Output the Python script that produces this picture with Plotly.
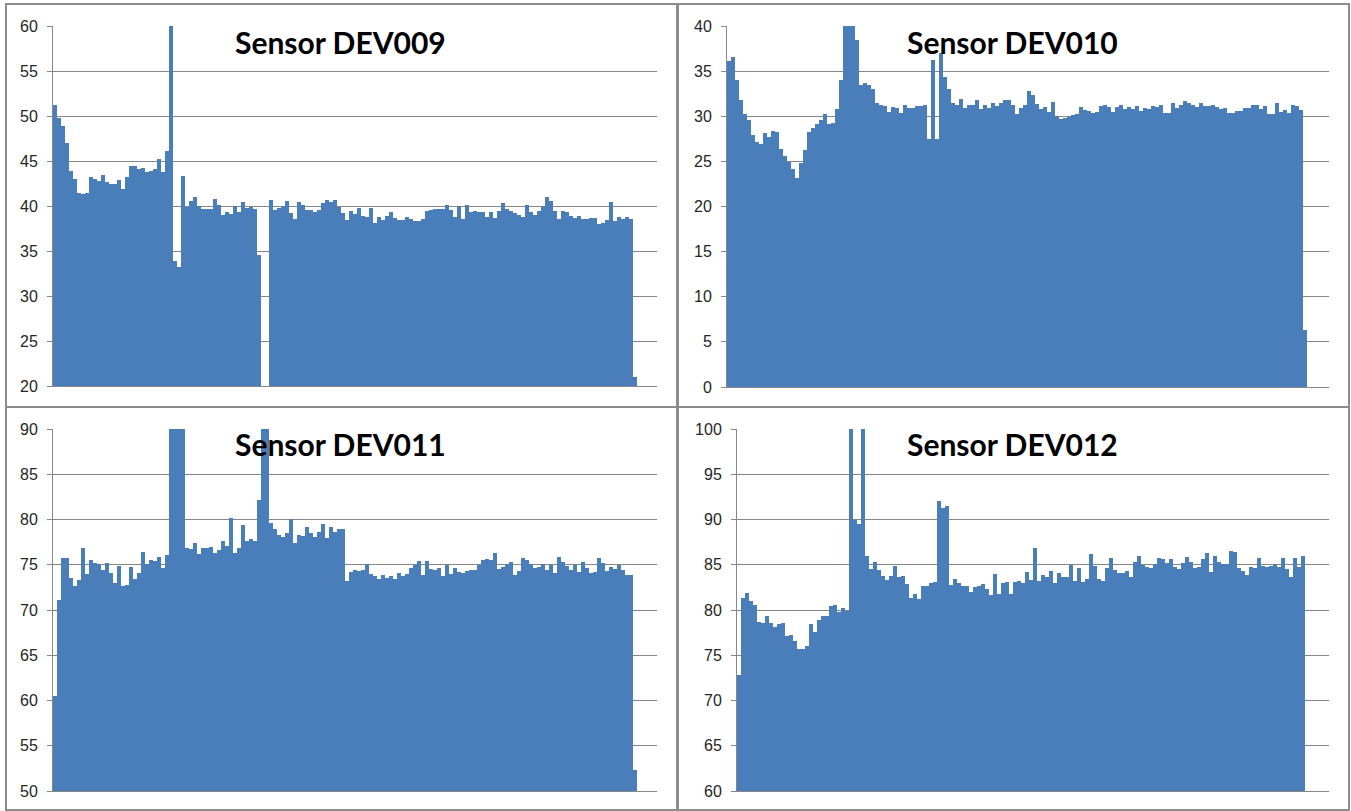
import plotly.graph_objects as go

# ---------------- data ----------------
titles = ["Sensor DEV009", "Sensor DEV010", "Sensor DEV011", "Sensor DEV012"]

dev009 = [51.2, 49.8, 48.9, 47.0, 43.9, 43.0, 41.5, 41.3, 41.4, 43.2,
          43.0, 42.8, 43.5, 42.7, 42.4, 42.5, 42.9, 41.9, 43.2, 44.4,
          44.5, 44.1, 44.2, 43.8, 43.9, 44.1, 45.2, 43.8, 46.1, 75.0,
          33.9, 33.2, 43.3, 39.9, 40.6, 41.0, 40.0, 39.7, 39.7, 39.7,
          40.8, 40.1, 39.0, 39.3, 39.1, 40.0, 39.3, 40.4, 39.8, 39.9,
          39.7, 34.6, 0.0, 0.0, 40.7, 39.6, 39.8, 40.0, 40.6, 39.2,
          38.6, 40.5, 40.1, 39.6, 39.6, 39.3, 39.6, 40.3, 40.7, 40.4,
          40.7, 39.9, 39.2, 38.4, 39.5, 39.1, 39.8, 38.9, 38.8, 39.8,
          38.1, 38.8, 38.4, 38.9, 39.3, 38.7, 38.5, 38.5, 38.8, 38.6,
          38.3, 38.3, 38.6, 39.4, 39.6, 39.7, 39.7, 39.7, 40.1, 39.6,
          38.8, 40.0, 38.6, 40.1, 39.3, 39.5, 39.3, 39.3, 38.8, 39.3,
          38.7, 39.4, 40.3, 39.7, 39.4, 39.2, 39.0, 38.8, 40.1, 39.3,
          39.0, 39.5, 39.9, 41.0, 40.6, 39.4, 38.6, 39.4, 39.3, 38.9,
          38.7, 38.9, 38.6, 38.6, 38.7, 38.7, 38.0, 38.1, 38.4, 40.5,
          38.3, 38.8, 38.6, 38.8, 38.6, 21.0]

dev010 = [36.1, 36.6, 34.0, 31.8, 30.2, 29.6, 27.9, 27.1, 26.9, 28.2,
          27.7, 28.4, 28.3, 26.4, 25.6, 24.9, 24.2, 23.2, 24.8, 26.3,
          28.3, 28.7, 29.1, 29.6, 30.2, 29.1, 29.2, 30.8, 34.0, 45.0,
          45.0, 45.0, 38.5, 33.5, 33.7, 33.5, 33.0, 31.5, 31.2, 31.1,
          30.5, 31.0, 30.9, 30.4, 31.3, 30.9, 30.9, 31.1, 31.1, 31.3,
          27.5, 36.2, 27.5, 37.0, 34.4, 33.0, 31.5, 31.3, 31.9, 30.9,
          31.2, 31.3, 31.8, 30.8, 31.3, 30.9, 31.5, 31.1, 31.5, 31.8,
          31.8, 31.3, 30.2, 30.9, 31.3, 32.8, 32.4, 31.4, 30.8, 31.0,
          30.5, 31.6, 30.0, 29.7, 29.8, 29.9, 30.1, 30.3, 31.0, 30.7,
          30.6, 30.4, 30.5, 31.1, 31.3, 31.0, 30.5, 31.0, 31.2, 30.8,
          31.0, 30.8, 31.1, 30.6, 30.9, 30.8, 31.1, 31.0, 31.2, 30.4,
          30.4, 31.5, 30.9, 31.3, 31.7, 31.5, 31.3, 31.0, 31.5, 31.1,
          31.1, 31.2, 31.0, 30.8, 30.9, 30.4, 30.4, 30.6, 30.6, 30.9,
          30.9, 31.2, 31.3, 30.8, 31.1, 30.3, 30.3, 31.5, 30.5, 30.7,
          30.4, 31.3, 31.1, 30.7, 6.3]

dev011 = [60.5, 71.1, 75.8, 75.8, 73.5, 72.6, 73.3, 76.9, 74.0, 75.5,
          75.2, 75.1, 74.4, 75.2, 74.1, 73.0, 74.9, 72.6, 72.8, 74.8,
          73.4, 74.1, 76.4, 75.1, 75.5, 75.4, 75.9, 74.6, 76.1, 95.0,
          95.0, 95.0, 95.0, 76.8, 76.7, 77.4, 76.2, 76.8, 76.8, 77.0,
          76.3, 76.6, 77.6, 77.1, 80.2, 76.3, 76.9, 79.4, 77.6, 77.9,
          77.6, 82.2, 95.0, 95.0, 79.6, 79.0, 78.3, 78.1, 78.5, 80.1,
          77.4, 78.3, 78.2, 79.2, 78.5, 78.1, 78.6, 79.5, 78.0, 79.2,
          78.6, 78.9, 79.0, 73.2, 74.2, 74.4, 74.3, 74.4, 75.1, 74.0,
          73.8, 73.4, 73.9, 73.5, 73.8, 73.4, 74.1, 73.8, 74.0, 74.6,
          75.0, 75.4, 73.9, 75.4, 74.5, 74.4, 74.6, 73.8, 75.0, 74.0,
          74.6, 74.2, 74.1, 74.3, 74.4, 74.4, 75.0, 75.5, 75.6, 75.5,
          76.3, 74.5, 74.8, 75.1, 75.3, 73.9, 74.3, 75.8, 75.5, 75.1,
          74.6, 74.8, 75.1, 74.4, 75.0, 74.1, 75.9, 75.3, 74.9, 74.4,
          75.0, 74.2, 75.3, 74.6, 74.1, 74.2, 75.8, 75.2, 74.3, 74.8,
          74.5, 75.0, 74.4, 73.9, 73.9, 52.3]

dev012 = [72.8, 81.3, 81.9, 81.0, 80.6, 78.7, 78.6, 79.3, 78.6, 78.1,
          78.4, 78.6, 77.1, 77.2, 76.6, 75.7, 75.7, 76.0, 78.5, 77.6,
          78.9, 79.3, 79.3, 80.4, 80.5, 79.8, 80.2, 79.9, 105.0, 90.0,
          89.5, 105.0, 86.0, 84.5, 85.3, 84.4, 83.8, 83.3, 83.8, 84.9,
          83.7, 83.8, 82.9, 81.3, 81.8, 81.2, 82.6, 82.6, 83.0, 83.1,
          92.0, 91.3, 91.5, 82.8, 83.4, 83.0, 82.6, 82.6, 82.0, 82.5,
          82.6, 82.9, 82.3, 81.7, 84.0, 81.8, 83.0, 83.1, 81.8, 83.1,
          83.2, 83.0, 84.2, 83.3, 86.8, 83.2, 83.9, 83.7, 84.3, 83.0,
          84.1, 83.6, 83.7, 85.0, 83.2, 84.6, 83.1, 83.4, 86.2, 84.9,
          83.4, 83.2, 84.6, 85.8, 84.4, 84.1, 84.1, 84.3, 83.7, 85.3,
          86.0, 85.0, 84.8, 84.6, 85.1, 85.8, 85.6, 85.2, 85.6, 84.8,
          84.5, 85.2, 85.9, 85.3, 84.6, 84.8, 85.6, 86.3, 84.2, 86.0,
          85.3, 85.1, 85.1, 86.5, 86.4, 84.6, 84.3, 83.9, 84.8, 84.6,
          85.7, 84.9, 84.8, 84.9, 85.1, 84.8, 85.8, 84.5, 83.6, 85.8,
          84.7, 86.0]

series = [dev009, dev010, dev011, dev012]
y_ranges = [(20, 60), (0, 40), (50, 90), (60, 100)]
axis_slots = [151, 150.5, 151, 148]   # number of category slots on each x axis

# ---------------- layout geometry (pixels) ----------------
W, H = 1351, 811
plot_boxes = [(53, 26, 657, 386), (727, 26, 1329, 387),
              (53, 429, 657, 791), (737, 429, 1329, 791)]
frame_boxes = [(6, 4, 677, 407), (678, 4, 1349, 407),
               (6, 407, 677, 810), (678, 407, 1349, 810)]
title_pos = [(340, 42), (1013, 42), (340, 444), (1013, 444)]

BLUE = "#4A7EBB"
GRID = "#878787"
TEXT = "#262626"


def px(x):
    return x / W


def py(y):
    return 1 - y / H


fig = go.Figure()
layout = dict(
    width=W, height=H, autosize=False,
    margin=dict(l=0, r=0, t=0, b=0, pad=0, autoexpand=False),
    paper_bgcolor="white", plot_bgcolor="white",
    showlegend=False, bargap=0,
    shapes=[], annotations=[],
)

for i, vals in enumerate(series):
    n = i + 1
    xa = "x" if n == 1 else f"x{n}"
    ya = "y" if n == 1 else f"y{n}"
    fig.add_trace(go.Bar(
        x=list(range(len(vals))), y=vals, width=1,
        marker=dict(color=BLUE, line=dict(width=0)),
        xaxis=xa, yaxis=ya, hoverinfo="skip",
    ))
    x0, y0, x1, y1 = plot_boxes[i]
    layout[f"xaxis{'' if n == 1 else n}"] = dict(
        domain=[px(x0), px(x1)], anchor=ya,
        range=[-0.5, axis_slots[i] - 0.5],
        showgrid=False, zeroline=False, showticklabels=False, ticks="",
        showline=True, linecolor=GRID, linewidth=1, mirror=False,
        fixedrange=True,
    )
    layout[f"yaxis{'' if n == 1 else n}"] = dict(
        domain=[py(y1), py(y0)], anchor=xa,
        range=list(y_ranges[i]), dtick=5, tick0=0,
        showgrid=True, gridcolor=GRID, gridwidth=1, zeroline=False,
        showline=True, linecolor=GRID, linewidth=1,
        ticks="outside", ticklen=5, tickcolor=GRID, ticklabelstandoff=6,
        tickfont=dict(family="Liberation Sans, Arial, sans-serif", size=16, color=TEXT),
        fixedrange=True,
    )
    fx0, fy0, fx1, fy1 = frame_boxes[i]
    layout["shapes"].append(dict(
        type="rect", xref="paper", yref="paper",
        x0=px(fx0), x1=px(fx1), y0=py(fy1), y1=py(fy0),
        line=dict(color="#8C8C8C", width=2), fillcolor="rgba(0,0,0,0)", layer="above",
    ))
    tx, ty = title_pos[i]
    layout["annotations"].append(dict(
        text=f"<b>{titles[i]}</b>", xref="paper", yref="paper",
        x=px(tx), y=py(ty), xanchor="center", yanchor="middle", showarrow=False,
        font=dict(family="Lato, Liberation Sans, sans-serif", size=30, color="black"),
    ))

fig.update_layout(**layout)
fig.write_html(
    "out.html",
    config={"displayModeBar": False, "staticPlot": True},
    post_script="document.documentElement.style.margin='0';"
                "document.body.style.margin='0';"
                "document.body.style.overflow='hidden';",
)
